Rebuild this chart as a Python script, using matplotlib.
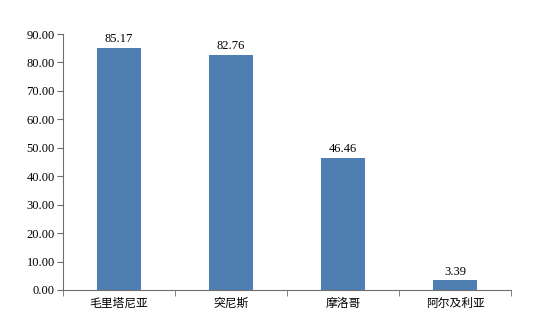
import matplotlib
matplotlib.use("Agg")
import matplotlib.pyplot as plt
import numpy as np

countries = ["毛里塔尼亚", "突尼斯", "摩洛哥", "阿尔及利亚"]
values = [85.17, 82.76, 46.46, 3.39]

plt.rcParams['font.family'] = ['Liberation Serif', 'Noto Sans CJK SC', 'DejaVu Sans']

fig = plt.figure(figsize=(5.41, 3.15), dpi=100)
ax = fig.add_axes([0.1165, 0.0794, 0.828, 0.8126])

x = np.arange(len(countries))
bars = ax.bar(x, values, width=0.4, color="#4F7EB3")
for b, v in zip(bars, values):
    ax.text(b.get_x() + b.get_width() / 2, v + 1.0, "%.2f" % v,
            ha="center", va="bottom", fontsize=9)

ax.set_xlim(-0.5, len(countries) - 0.5)
ax.set_ylim(0, 90)
ax.set_yticks(np.arange(0, 91, 10))
ax.set_yticklabels(["%.2f" % t for t in np.arange(0, 91, 10)], fontsize=9)
ax.set_xticks(x)
ax.set_xticklabels(countries, fontsize=8.5, family=['Noto Sans CJK SC'])
ax.set_xticks(np.arange(-0.5, len(countries)), minor=True)
ax.tick_params(axis="x", which="major", length=0, pad=5)
ax.tick_params(axis="x", which="minor", length=4, direction="out", color="#6e6e6e")
ax.tick_params(axis="y", length=4, direction="out", color="#6e6e6e", pad=2)

for s in ["top", "right"]:
    ax.spines[s].set_visible(False)
for s in ["left", "bottom"]:
    ax.spines[s].set_color("#6e6e6e")
    ax.spines[s].set_linewidth(0.8)

fig.savefig("out.png", dpi=100)
